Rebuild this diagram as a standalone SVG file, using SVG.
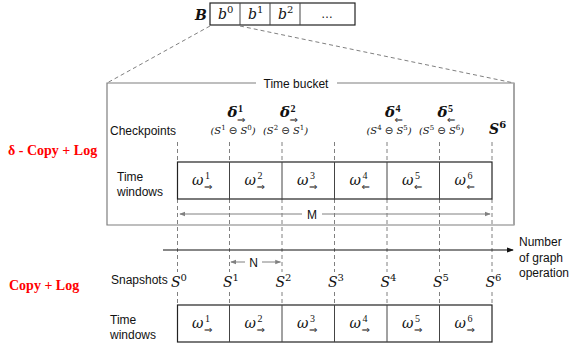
<svg xmlns="http://www.w3.org/2000/svg" width="571" height="350" viewBox="0 0 571 350">
<defs>
<style>
.lbl{font-family:"Liberation Sans",Arial,sans-serif;font-size:12px;fill:#111}
.math{font-family:"DejaVu Serif","Liberation Serif",serif;font-style:italic;fill:#111}
.sup{font-family:"Liberation Serif","Times New Roman",serif;font-style:normal;fill:#111}
.red{font-family:"Liberation Serif","Times New Roman",serif;font-weight:bold;font-size:14px;fill:#f00}
.arr{font-family:"DejaVu Sans",sans-serif;font-style:normal;font-weight:normal;font-size:10px;fill:#111}
.dash{stroke:#808080;stroke-width:1;stroke-dasharray:4,3;fill:none}
.cell{fill:#fff;stroke:#222;stroke-width:1.2}
.div{stroke:#444;stroke-width:1}
.grey{stroke:#808080;stroke-width:1;fill:none}
</style>
<marker id="ga" viewBox="0 0 8 8" refX="7" refY="4" markerWidth="6" markerHeight="6" orient="auto-start-reverse"><path d="M0,1 L8,4 L0,7 z" fill="#808080"/></marker>
<marker id="ba" viewBox="0 0 8 8" refX="7" refY="4" markerWidth="6" markerHeight="6" orient="auto"><path d="M0,1 L8,4 L0,7 z" fill="#111"/></marker>
</defs>

<g id="bucket-array">
<text x="195" y="20" class="math" font-weight="bold" font-size="14">B</text>
<rect x="210" y="3" width="145" height="22" class="cell"/>
<line x1="240" y1="3" x2="240" y2="25" class="div"/>
<line x1="270" y1="3" x2="270" y2="25" class="div"/>
<line x1="300" y1="3" x2="300" y2="25" class="div"/>
<text x="218" y="19" class="math" font-size="14">b<tspan dy="-6" font-size="10" font-style="normal">0</tspan></text>
<text x="248" y="19" class="math" font-size="14">b<tspan dy="-6" font-size="10" font-style="normal">1</tspan></text>
<text x="278" y="19" class="math" font-size="14">b<tspan dy="-6" font-size="10" font-style="normal">2</tspan></text>
<text x="327" y="18" class="lbl" font-size="10" text-anchor="middle">…</text>
</g>

<g id="connectors">
<line x1="210" y1="26" x2="107" y2="83" class="dash"/>
<line x1="240" y1="26" x2="514" y2="83" class="dash"/>
<g class="dash">
<path d="M177.5,142V162M177.5,199V272M177.5,292V305"/>
<path d="M229.5,142V162M229.5,199V272M229.5,292V305"/>
<path d="M282,142V162M282,199V272M282,292V305"/>
<path d="M334.5,142V162M334.5,199V272M334.5,292V305"/>
<path d="M387,142V162M387,199V272M387,292V305"/>
<path d="M439.5,142V162M439.5,199V272M439.5,292V305"/>
<path d="M492,142V162M492,199V272M492,292V305"/>
</g>
<line x1="302" y1="214" x2="180" y2="214" class="grey" marker-end="url(#ga)"/>
<line x1="322" y1="214" x2="490" y2="214" class="grey" marker-end="url(#ga)"/>
<text x="312" y="218.5" class="lbl" font-size="13" text-anchor="middle">M</text>
<line x1="245" y1="262" x2="231" y2="262" class="grey" marker-end="url(#ga)"/>
<line x1="262" y1="262" x2="280.5" y2="262" class="grey" marker-end="url(#ga)"/>
<text x="253.5" y="266.5" class="lbl" font-size="13" text-anchor="middle">N</text>
<line x1="163" y1="250" x2="513" y2="250" stroke="#111" stroke-width="1.2" marker-end="url(#ba)"/>
</g>

<g id="time-bucket">
<path d="M256,83H107V225H514V83H337" fill="none" stroke="#7f7f7f" stroke-width="1.2"/>
<line x1="514" y1="83" x2="514" y2="225" stroke="#a6a6a6" stroke-width="2"/>
<text x="296" y="88" class="lbl" font-size="13" text-anchor="middle">Time bucket</text>
</g>

<g id="labels">
<text x="8" y="155" class="red">δ - Copy + Log</text>
<text x="9" y="290" class="red">Copy + Log</text>
<text x="110" y="135" class="lbl">Checkpoints</text>
<text x="117" y="181" class="lbl">Time</text>
<text x="117" y="196" class="lbl">windows</text>
<text x="111" y="284" class="lbl" font-size="11.5">Snapshots</text>
<text x="110" y="324" class="lbl">Time</text>
<text x="110" y="339" class="lbl">windows</text>
<text x="519" y="246" class="lbl">Number</text>
<text x="519" y="262" class="lbl">of graph</text>
<text x="519" y="277" class="lbl">operation</text>
</g>

<g id="checkpoints">
<g font-weight="bold">
<text x="227.5" y="117" class="math" font-size="15">δ</text>
<text x="238" y="112" class="sup" font-size="10">1</text>
<text x="237" y="123" class="arr">⇒</text>
<text x="280" y="117" class="math" font-size="15">δ</text>
<text x="290.5" y="112" class="sup" font-size="10">2</text>
<text x="289.5" y="123" class="arr">⇒</text>
<text x="385" y="117" class="math" font-size="15">δ</text>
<text x="395.5" y="112" class="sup" font-size="10">4</text>
<text x="394.5" y="123" class="arr">⇐</text>
<text x="437.5" y="117" class="math" font-size="15">δ</text>
<text x="448" y="112" class="sup" font-size="10">5</text>
<text x="447" y="123" class="arr">⇐</text>
<text x="489" y="134" class="math" font-size="14">S<tspan dy="-6" font-size="10" font-style="normal">6</tspan></text>
</g>
<g font-size="10">
<text x="233" y="134" class="math" text-anchor="middle">(S<tspan dy="-4" font-size="7" font-style="normal">1</tspan><tspan dy="4"> </tspan><tspan font-style="normal" font-family="DejaVu Sans">⊖</tspan> S<tspan dy="-4" font-size="7" font-style="normal">0</tspan><tspan dy="4">)</tspan></text>
<text x="285.5" y="134" class="math" text-anchor="middle">(S<tspan dy="-4" font-size="7" font-style="normal">2</tspan><tspan dy="4"> </tspan><tspan font-style="normal" font-family="DejaVu Sans">⊖</tspan> S<tspan dy="-4" font-size="7" font-style="normal">1</tspan><tspan dy="4">)</tspan></text>
<text x="389" y="134" class="math" text-anchor="middle">(S<tspan dy="-4" font-size="7" font-style="normal">4</tspan><tspan dy="4"> </tspan><tspan font-style="normal" font-family="DejaVu Sans">⊖</tspan> S<tspan dy="-4" font-size="7" font-style="normal">5</tspan><tspan dy="4">)</tspan></text>
<text x="441.5" y="134" class="math" text-anchor="middle">(S<tspan dy="-4" font-size="7" font-style="normal">5</tspan><tspan dy="4"> </tspan><tspan font-style="normal" font-family="DejaVu Sans">⊖</tspan> S<tspan dy="-4" font-size="7" font-style="normal">6</tspan><tspan dy="4">)</tspan></text>
</g>
</g>

<g id="top-windows">
<rect x="177.5" y="162" width="314.5" height="37" class="cell"/>
<path d="M229.5,162V199M282,162V199M334.5,162V199M387,162V199M439.5,162V199" class="div"/>
<g font-size="14">
<text x="192" y="185" class="math">ω</text><text x="205" y="179" class="sup" font-size="10">1</text><text x="204" y="190" class="arr">⇒</text>
<text x="244.5" y="185" class="math">ω</text><text x="257.5" y="179" class="sup" font-size="10">2</text><text x="256.5" y="190" class="arr">⇒</text>
<text x="297" y="185" class="math">ω</text><text x="310" y="179" class="sup" font-size="10">3</text><text x="309" y="190" class="arr">⇒</text>
<text x="349.5" y="185" class="math">ω</text><text x="362.5" y="179" class="sup" font-size="10">4</text><text x="361.5" y="190" class="arr">⇐</text>
<text x="402" y="185" class="math">ω</text><text x="415" y="179" class="sup" font-size="10">5</text><text x="414" y="190" class="arr">⇐</text>
<text x="454.5" y="185" class="math">ω</text><text x="467.5" y="179" class="sup" font-size="10">6</text><text x="466.5" y="190" class="arr">⇐</text>
</g>
</g>

<g id="snapshots" font-size="14">
<text x="171" y="287" class="math">S<tspan dy="-6" font-size="10" font-style="normal">0</tspan></text>
<text x="223" y="287" class="math">S<tspan dy="-6" font-size="10" font-style="normal">1</tspan></text>
<text x="275.5" y="287" class="math">S<tspan dy="-6" font-size="10" font-style="normal">2</tspan></text>
<text x="328" y="287" class="math">S<tspan dy="-6" font-size="10" font-style="normal">3</tspan></text>
<text x="380.5" y="287" class="math">S<tspan dy="-6" font-size="10" font-style="normal">4</tspan></text>
<text x="433" y="287" class="math">S<tspan dy="-6" font-size="10" font-style="normal">5</tspan></text>
<text x="485.5" y="287" class="math">S<tspan dy="-6" font-size="10" font-style="normal">6</tspan></text>
</g>

<g id="bottom-windows">
<rect x="177.5" y="305" width="314.5" height="37" class="cell"/>
<path d="M229.5,305V342M282,305V342M334.5,305V342M387,305V342M439.5,305V342" class="div"/>
<g font-size="14">
<text x="192" y="328" class="math">ω</text><text x="205" y="322" class="sup" font-size="10">1</text><text x="204" y="333" class="arr">⇒</text>
<text x="244.5" y="328" class="math">ω</text><text x="257.5" y="322" class="sup" font-size="10">2</text><text x="256.5" y="333" class="arr">⇒</text>
<text x="297" y="328" class="math">ω</text><text x="310" y="322" class="sup" font-size="10">3</text><text x="309" y="333" class="arr">⇒</text>
<text x="349.5" y="328" class="math">ω</text><text x="362.5" y="322" class="sup" font-size="10">4</text><text x="361.5" y="333" class="arr">⇒</text>
<text x="402" y="328" class="math">ω</text><text x="415" y="322" class="sup" font-size="10">5</text><text x="414" y="333" class="arr">⇒</text>
<text x="454.5" y="328" class="math">ω</text><text x="467.5" y="322" class="sup" font-size="10">6</text><text x="466.5" y="333" class="arr">⇒</text>
</g>
</g>
</svg>
